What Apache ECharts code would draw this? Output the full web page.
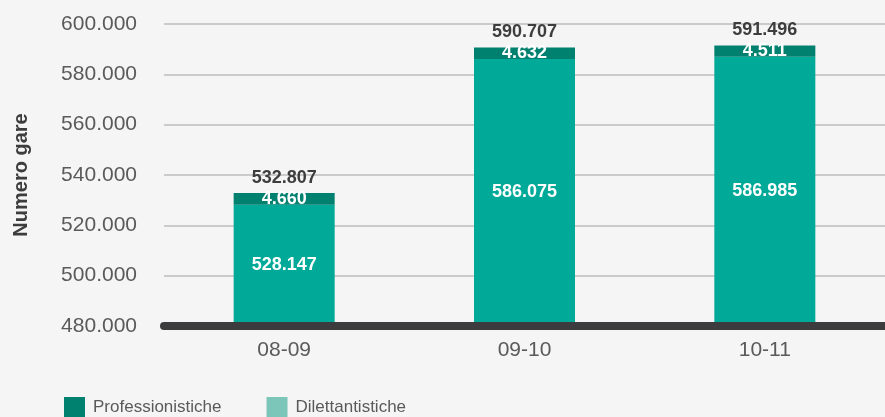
<!DOCTYPE html>
<html>
<head>
<meta charset="utf-8">
<script src="https://cdn.jsdelivr.net/npm/echarts@6/dist/echarts.min.js"></script>
<style>
  html, body { margin: 0; padding: 0; background: #f5f5f5; }
  #chart { width: 885px; height: 417px; }
</style>
</head>
<body>
<div id="chart"></div>
<script>
// stagioni
var stagioni = ['08-09', '09-10', '10-11'];
// gare dilettantistiche (parte bassa della colonna)
var dilettantistiche = [528147, 586075, 586985];
// gare professionistiche (parte alta)
var professionistiche = [4660, 4632, 4511];
// assi
var yMin = 480000;
var yMax = 600000;
var yStep = 20000;

var totali = [];
for (var i = 0; i < stagioni.length; i++) {
    totali[i] = dilettantistiche[i] + professionistiche[i];
}

// separatore delle migliaia con il punto
function fmt(v) {
    return String(v).replace(/\B(?=(\d{3})+(?!\d))/g, '.');
}

var myChart = echarts.init(document.getElementById('chart'));

var font = 'Liberation Sans, Arial, sans-serif';

var option = {
    backgroundColor: '#f5f5f5',
    animation: false,
    textStyle: { fontFamily: font },
    grid: {
        left: 164,
        top: 24,
        width: 724,
        height: 302
    },
    legend: {
        left: 64,
        top: 397,
        padding: 0,
        itemWidth: 21,
        itemHeight: 20,
        itemGap: 45,
        icon: 'rect',
        textStyle: { fontSize: 17, color: '#5a5a5a', fontFamily: font, padding: [0, 0, 0, 3] },
        data: [
            { name: 'Professionistiche', itemStyle: { color: '#00806f' } },
            { name: 'Dilettantistiche', itemStyle: { color: '#7bc6b8' } }
        ]
    },
    xAxis: {
        type: 'category',
        data: stagioni,
        z: 5,
        axisTick: { show: false },
        axisLine: {
            lineStyle: { color: '#3c3b3d', width: 8, cap: 'round' }
        },
        axisLabel: { fontSize: 21, color: '#5a5a5a', margin: 14 }
    },
    yAxis: {
        type: 'value',
        min: yMin,
        max: yMax,
        interval: yStep,
        name: 'Numero gare',
        nameLocation: 'middle',
        nameGap: 133,
        nameTextStyle: { fontSize: 20, fontWeight: 'bold', color: '#3d3d3d' },
        axisLine: { show: false },
        axisTick: { show: false },
        axisLabel: {
            fontSize: 21,
            color: '#5a5a5a',
            margin: 27,
            formatter: function (v) { return fmt(v); }
        },
        splitLine: { lineStyle: { color: '#bdbdbd', width: 1.5 } }
    },
    series: [
        {
            name: 'Dilettantistiche',
            type: 'bar',
            stack: 'gare',
            barWidth: 101,
            itemStyle: { color: '#00a998' },
            label: {
                show: true,
                position: 'inside',
                color: '#fff',
                fontWeight: 'bold',
                fontSize: 18,
                formatter: function (p) { return fmt(p.value); }
            },
            data: dilettantistiche
        },
        {
            name: 'Professionistiche',
            type: 'bar',
            stack: 'gare',
            barWidth: 101,
            itemStyle: { color: '#00806f' },
            label: {
                show: true,
                position: 'inside',
                color: '#fff',
                fontWeight: 'bold',
                fontSize: 18,
                formatter: function (p) { return fmt(p.value); }
            },
            data: professionistiche
        },
        {
            name: 'Totale',
            type: 'bar',
            stack: 'gare',
            barWidth: 101,
            itemStyle: { color: 'transparent' },
            label: {
                show: true,
                position: 'top',
                distance: 6,
                color: '#3d3d3d',
                fontWeight: 'bold',
                fontSize: 18,
                formatter: function (p) { return fmt(totali[p.dataIndex]); }
            },
            data: [0, 0, 0]
        }
    ]
};

myChart.setOption(option);
</script>
</body>
</html>
